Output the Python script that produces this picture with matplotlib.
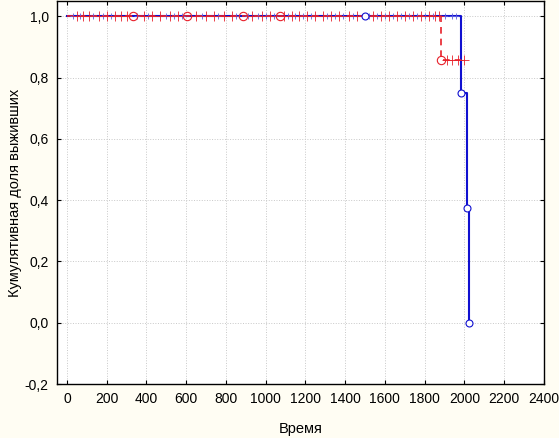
import matplotlib
matplotlib.use("Agg")
import matplotlib.pyplot as plt
from matplotlib.ticker import FuncFormatter

plt.rcParams['font.family'] = ['Liberation Sans', 'DejaVu Sans']

# Group 1 (red, dashed)
red_times = [0, 1883, 2010]
red_surv = [1.0, 0.857, 0.857]
red_event_t = [332, 604, 886, 1072, 1883]
red_event_s = [1.0, 1.0, 1.0, 1.0, 0.857]
red_cens_t = [50, 80, 110, 160, 200, 240, 270, 300, 390, 430, 470, 520, 560, 650,
              700, 740, 790, 830, 930, 980, 1020, 1090, 1130, 1170, 1210, 1250,
              1290, 1330, 1370, 1420, 1460, 1540, 1580, 1620, 1660, 1700, 1740,
              1780, 1820, 1850, 1870]
red_cens2_t = [1913, 1938, 1969, 1999]

# Group 2 (blue, solid)
blue_times = [0, 1985, 2014, 2024]
blue_surv = [1.0, 0.75, 0.375, 0.0]
blue_event_t = [1500, 1985, 2014, 2024]
blue_event_s = [1.0, 0.75, 0.375, 0.0]
blue_cens_t = [30, 65, 130, 180, 220, 350, 410, 500, 540, 580, 680, 760, 850,
               910, 960, 1000, 1040, 1110, 1150, 1190, 1230, 1310, 1350, 1390,
               1440, 1520, 1560, 1600, 1640, 1680, 1720, 1760, 1800, 1840, 1900,
               1940, 1960]

xticks = list(range(0, 2401, 200))
yticks = [-0.2, 0.0, 0.2, 0.4, 0.6, 0.8, 1.0]

bg = '#FFFDF3'
fig = plt.figure(figsize=(5.59, 4.38), dpi=100, facecolor=bg)
ax = fig.add_axes([0.102, 0.123, 0.871, 0.875])
ax.set_facecolor('white')

red = '#E8202A'
blue = '#1010D0'

# blue curve
ax.step(blue_times, blue_surv, where='post', color=blue, lw=1.5, zorder=3)
ax.plot(blue_cens_t, [1.0] * len(blue_cens_t), ls='none', marker='+',
        color='#6060E0', ms=5, mew=0.6, zorder=4)
ax.plot(blue_event_t, blue_event_s, ls='none', marker='o', mfc='white',
        mec=blue, ms=5, mew=0.8, zorder=5)

# red curve
ax.step(red_times, red_surv, where='post', color=red, lw=1.2, ls=(0, (4, 3)), zorder=3)
ax.plot(red_cens_t, [1.0] * len(red_cens_t), ls='none', marker='+',
        color=red, ms=6.5, mew=0.6, zorder=4)
ax.plot(red_cens2_t, [0.857] * len(red_cens2_t), ls='none', marker='+',
        color=red, ms=6.5, mew=0.6, zorder=4)
ax.plot(red_event_t, red_event_s, ls='none', marker='o', mfc='none',
        mec=red, ms=6, mew=0.8, zorder=5)

ax.set_xlim(-50, 2400)
ax.set_ylim(-0.2, 1.05)
ax.set_xticks(xticks)
ax.set_yticks(yticks)
ax.yaxis.set_major_formatter(FuncFormatter(lambda v, p: f"{v:.1f}".replace('.', ',')))
ax.tick_params(direction='in', length=3, width=0.8, top=True, right=True,
               labelsize=10, colors='black', pad=6)
ax.grid(True, color='#C8C8C8', ls=':', lw=0.7)
for s in ax.spines.values():
    s.set_linewidth(1.0)
    s.set_color('black')

ax.set_xlabel('Время', fontsize=10.5, labelpad=11)
ax.set_ylabel('Кумулятивная доля выживших', fontsize=10.5, labelpad=2)

fig.savefig('out.png', dpi=100, facecolor=bg)
